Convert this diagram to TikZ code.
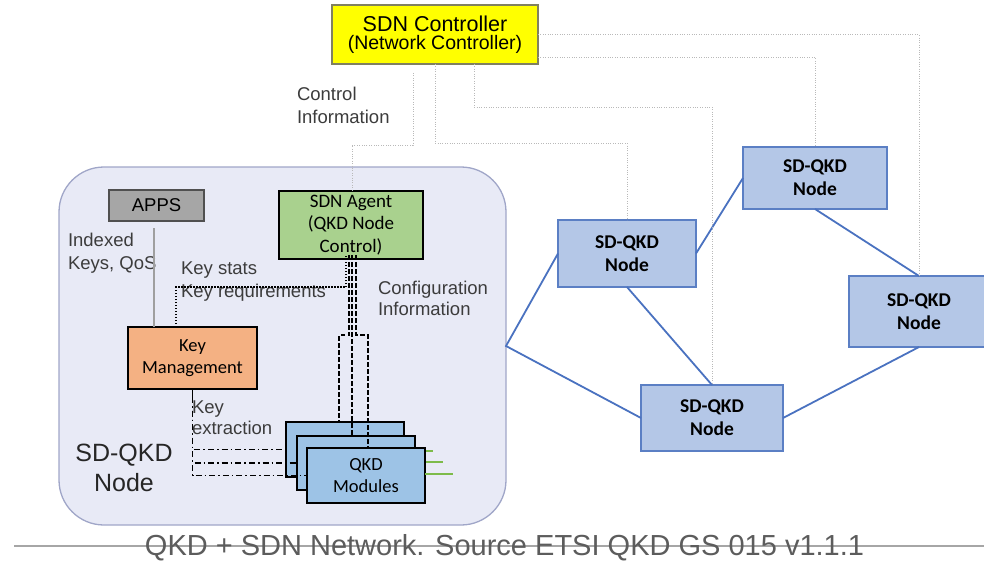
\documentclass[tikz,border=0pt]{standalone}
\usepackage{fontspec}
\setmainfont{Liberation Sans}
\newfontfamily\calibfont{Carlito}
\definecolor{ctrlyellow}{HTML}{FFFF00}
\definecolor{ctrlborder}{HTML}{808060}
\definecolor{outerfill}{HTML}{E8EAF6}
\definecolor{outerdraw}{HTML}{A0A6C8}
\definecolor{appsfill}{HTML}{A6A6A6}
\definecolor{appsdraw}{HTML}{505050}
\definecolor{agentfill}{HTML}{A9D18E}
\definecolor{kmfill}{HTML}{F4B183}
\definecolor{modfill}{HTML}{9DC3E6}
\definecolor{netfill}{HTML}{B4C7E7}
\definecolor{netdraw}{HTML}{5B7FC4}
\definecolor{linkblue}{HTML}{4A72C0}
\definecolor{greenline}{HTML}{7DBB4A}
\definecolor{labelgray}{HTML}{3C3C3C}
\definecolor{captiongray}{HTML}{5C5C5C}
\begin{document}
\begin{tikzpicture}[x=1pt,y=-1pt,
  every node/.style={inner sep=0pt, outer sep=0pt, align=center},
  ctrlbox/.style={draw=ctrlborder, line width=1.2pt, fill=ctrlyellow,
    minimum width=206pt, minimum height=59pt},
  outerbox/.style={draw=outerdraw, line width=1.3pt, fill=outerfill,
    rounded corners=45pt, minimum width=447pt, minimum height=358pt},
  appsbox/.style={draw=appsdraw, line width=1.5pt, fill=appsfill,
    minimum width=95pt, minimum height=31pt, font=\fontsize{18.5}{22}\selectfont},
  agentbox/.style={draw=black, line width=1.6pt, fill=agentfill,
    minimum width=144pt, minimum height=68pt, font=\calibfont\fontsize{19}{22.5}\selectfont},
  kmbox/.style={draw=black, line width=1.6pt, fill=kmfill,
    minimum width=129pt, minimum height=62pt, font=\calibfont\fontsize{18.5}{22}\selectfont},
  modbox/.style={draw=black, line width=1.6pt, fill=modfill,
    minimum width=118pt, minimum height=55pt, font=\calibfont\fontsize{18.5}{22}\selectfont},
  netbox/.style={draw=netdraw, line width=1.3pt, fill=netfill,
    font=\calibfont\bfseries\fontsize{19.5}{23}\selectfont},
  lbl/.style={align=left, anchor=west, text=labelgray, font=\fontsize{18.5}{22.5}\selectfont},
  ctrlwire/.style={draw=gray!55, line width=1pt, dash pattern=on 1pt off 1.4pt},
  kswire/.style={draw=black, line width=1.5pt, dash pattern=on 1.5pt off 1.5pt},
  cfgwire/.style={draw=black, line width=1.5pt, dash pattern=on 4.5pt off 2.5pt},
  xwire/.style={draw=black, line width=1.6pt, dash pattern=on 6pt off 3pt on 1.6pt off 3pt},
  link/.style={draw=linkblue, line width=1.8pt},
  greenwire/.style={draw=greenline, line width=2pt},
  appswire/.style={draw=gray!75, line width=1.5pt}
]
\useasboundingbox (0,0) rectangle (984,560);
\clip (0,0) rectangle (984,560);

% caption rule and caption
\draw[gray!70, line width=1.1pt] (14,546) -- (984,546);
\node[anchor=base, text=captiongray, font=\fontsize{29}{34}\selectfont] (caption)
  at (504.5,555.5) {QKD + SDN Network. Source ETSI QKD GS 015 v1.1.1};

% SD-QKD node enclosure
\node[outerbox] (outer) at (282.5,346) {};
\node[text=black!85, font=\fontsize{25}{30}\selectfont] (sdlabel) at (124,468) {SD-QKD\\Node};

% controller
\node[ctrlbox] (ctrl) at (435,34.5) {%
  {\fontsize{21.5}{24}\selectfont SDN Controller}\\[3pt]
  {\fontsize{19.5}{22}\selectfont (Network Controller)}};

% inner blocks
\node[appsbox] (apps) at (156.5,205.5) {APPS};
\node[agentbox] (agent) at (351,225) {SDN Agent\\(QKD Node\\Control)};
\node[kmbox] (km) at (192.5,358) {Key\\Management};

% stacked QKD modules with their quantum channels
\node[modbox] (mod1) at (345,449.5) {};
\draw[greenwire] ([yshift=-1pt]mod1.east) -- ++(29,0);
\node[modbox, minimum height=54pt] (mod2) at (356,463) {};
\draw[greenwire] ([yshift=1pt]mod2.east) -- ++(28,0);
\node[modbox] (mod3) at (366,475.5) {QKD\\Modules};
\draw[greenwire] ([yshift=1.5pt]mod3.east) -- ++(28,0);

% network of SD-QKD nodes
\node[netbox, minimum width=138pt, minimum height=67pt] (nA) at (627,253.5) {SD-QKD\\Node};
\node[netbox, minimum width=144pt, minimum height=62pt] (nB) at (815,178) {SD-QKD\\Node};
\node[netbox, minimum width=140pt, minimum height=71pt] (nC) at (919,311.5) {SD-QKD\\Node};
\node[netbox, minimum width=142pt, minimum height=66pt] (nD) at (712,418) {SD-QKD\\Node};

\draw[link] (nA.west) -- (outer.east) -- (nD.west);
\draw[link] (nA.east) -- (nB.west);
\draw[link] (nA.south) -- (nD.north);
\draw[link] (nB.south) -- (nC.north);
\draw[link] (nC.south) -- (nD.east);

% controller wiring
\draw[ctrlwire] (ctrl.east) -| (nC.north);
\draw[ctrlwire] ([yshift=-22.5pt]ctrl.east) -| (nB.north);
\draw[ctrlwire] ([xshift=39pt]ctrl.south) |- (712,107) -- (nD.north);
\draw[ctrlwire] (ctrl.south) |- (627,143) -- (nA.north);
\draw[ctrlwire, shorten <=9pt] ([xshift=-22pt]ctrl.south) |- (352,145) -- ([xshift=1pt]agent.north);

% labels
\node[lbl] (ctrlinfo) at (297,105.5) {Control\\Information};
\node[lbl] (idxkeys) at (68,253) {Indexed\\Keys, QoS};
\node[lbl] (keystats) at (181,281.5) {Key stats\\Key requirements};
\node[lbl, font=\fontsize{18.5}{21}\selectfont] (cfginfo) at (378,298.5) {Configuration\\Information};
\node[lbl, font=\fontsize{18.5}{21}\selectfont] (keyext) at (192,417.5) {Key\\extraction};

% internal wiring
\draw[appswire, shorten <=7pt] ([xshift=-2.5pt]apps.south) -- ([xshift=-2.5pt]apps.south |- km.north);
\draw[kswire] ([xshift=-16.5pt]km.north) |- (346,287) -- ([xshift=-5pt,yshift=5pt]agent.south);
\draw[cfgwire] ([xshift=-2pt,yshift=4pt]agent.south) -- (349,335) -| ([xshift=-6pt]mod1.north);
\draw[cfgwire] ([xshift=1pt,yshift=4pt]agent.south) -- ([xshift=-4pt]mod2.north);
\draw[cfgwire] ([xshift=5pt,yshift=4pt]agent.south) -- (356,335) -| ([xshift=2pt]mod3.north);
\draw[black, line width=1.6pt] (km.south) -- ++(0,8);
\draw[xwire] ([yshift=-8pt]km.south) |- (mod1.west);
\draw[xwire] ([yshift=-8pt]km.south) |- (mod2.west);
\draw[xwire] ([yshift=-8pt]km.south) |- (mod3.west);
\end{tikzpicture}
\end{document}
